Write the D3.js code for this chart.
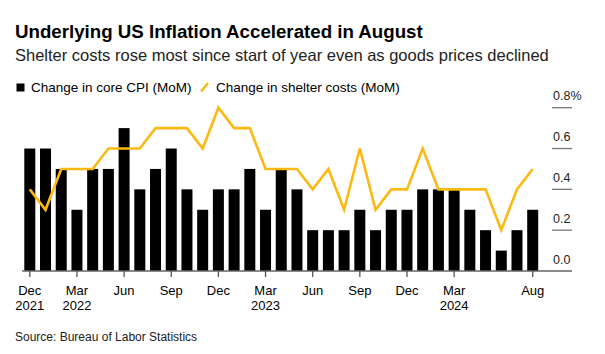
<!DOCTYPE html>
<html><head><meta charset="utf-8">
<script src="https://cdn.jsdelivr.net/npm/d3@7"></script>
<style>body{margin:0;background:#fff;} text{font-family:"Liberation Sans",Arial,sans-serif;}</style>
</head><body><svg id="c" width="605" height="354"></svg>
<script>
const months = ["2021-12","2022-01","2022-02","2022-03","2022-04","2022-05","2022-06","2022-07","2022-08","2022-09","2022-10","2022-11","2022-12","2023-01","2023-02","2023-03","2023-04","2023-05","2023-06","2023-07","2023-08","2023-09","2023-10","2023-11","2023-12","2024-01","2024-02","2024-03","2024-04","2024-05","2024-06","2024-07","2024-08"];
const coreCPI = [0.6,0.6,0.5,0.3,0.5,0.5,0.7,0.4,0.5,0.6,0.4,0.3,0.4,0.4,0.5,0.3,0.5,0.4,0.2,0.2,0.2,0.3,0.2,0.3,0.3,0.4,0.4,0.4,0.3,0.2,0.1,0.2,0.3];
const shelter = [0.4,0.3,0.5,0.5,0.5,0.6,0.6,0.6,0.7,0.7,0.7,0.6,0.8,0.7,0.7,0.5,0.5,0.5,0.4,0.5,0.3,0.6,0.3,0.4,0.4,0.6,0.4,0.4,0.4,0.4,0.2,0.4,0.5];
const yTicks = [0,0.2,0.4,0.6,0.8];
const xTickMonths = ["2021-12","2022-03","2022-06","2022-09","2022-12","2023-03","2023-06","2023-09","2023-12","2024-03","2024-08"];
const xTickLabels = [["Dec","2021"],["Mar","2022"],["Jun",""],["Sep",""],["Dec",""],["Mar","2023"],["Jun",""],["Sep",""],["Dec",""],["Mar","2024"],["Aug",""]];

const svg = d3.select("#c");
const x = d3.scalePoint().domain(months).range([29.8, 532.7]);
const y = d3.scaleLinear().domain([0,0.8]).range([271,107.7]);
const bw = x.step()*0.7;

svg.append("text").attr("x",15).attr("y",37.7).attr("font-size",18.7).attr("font-weight","bold").attr("fill","#000").text("Underlying US Inflation Accelerated in August");
svg.append("text").attr("x",15).attr("y",60.7).attr("font-size",16.5).attr("fill","#222").text("Shelter costs rose most since start of year even as goods prices declined");
svg.append("rect").attr("x",16.5).attr("y",83.5).attr("width",8).attr("height",8).attr("fill","#000");
svg.append("text").attr("x",31).attr("y",91.5).attr("font-size",13.5).attr("fill","#000").text("Change in core CPI (MoM)");
svg.append("line").attr("x1",201).attr("y1",91.5).attr("x2",208).attr("y2",83).attr("stroke","#FDB913").attr("stroke-width",2.5);
svg.append("text").attr("x",216).attr("y",91.5).attr("font-size",13.5).attr("fill","#000").text("Change in shelter costs (MoM)");

const yg = svg.append("g");
yTicks.forEach(v=>{
  if(v>0) yg.append("line").attr("x1",552).attr("x2",572).attr("y1",y(v)).attr("y2",y(v)).attr("stroke","#777").attr("stroke-width",1.3);
  yg.append("text").attr("x",553).attr("y",y(v)-7.5).attr("font-size",12.5).attr("fill","#222").text(v.toFixed(1)+(v===0.8?"%":""));
});

svg.append("g").selectAll("rect").data(months).join("rect")
  .attr("x",d=>x(d)-bw/2).attr("width",bw)
  .attr("y",(d,i)=>y(coreCPI[i])).attr("height",(d,i)=>y(0)-y(coreCPI[i]))
  .attr("fill","#000");

svg.append("line").attr("x1",22).attr("x2",572).attr("y1",y(0)).attr("y2",y(0)).attr("stroke","#666").attr("stroke-width",1.3);

const line = d3.line().x((d,i)=>x(months[i])).y(d=>y(d));
svg.append("path").datum(shelter).attr("d",line).attr("fill","none").attr("stroke","#FDB913").attr("stroke-width",2.6).attr("stroke-linejoin","miter");

const xa = svg.append("g");
xTickMonths.forEach((m,i)=>{
  const cx = x(m);
  xa.append("line").attr("x1",cx).attr("x2",cx).attr("y1",y(0)).attr("y2",277).attr("stroke","#555").attr("stroke-width",1.3);
  xa.append("text").attr("x",cx).attr("y",294.5).attr("text-anchor","middle").attr("font-size",13).attr("fill","#000").text(xTickLabels[i][0]);
  if(xTickLabels[i][1]) xa.append("text").attr("x",cx).attr("y",310).attr("text-anchor","middle").attr("font-size",13).attr("fill","#000").text(xTickLabels[i][1]);
});

svg.append("text").attr("x",15).attr("y",340.5).attr("font-size",12).attr("fill","#222").text("Source: Bureau of Labor Statistics");
</script></body></html>
